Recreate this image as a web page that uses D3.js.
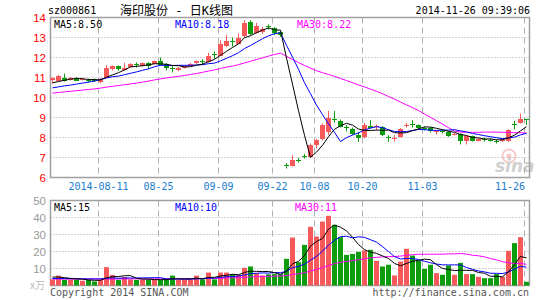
<!DOCTYPE html>
<html>
<head>
<meta charset="utf-8">
<script src="https://cdn.jsdelivr.net/npm/d3@7"></script>
<style>
body { margin: 0; background: #fff; }
text { font-family: "DejaVu Sans Mono", monospace; font-size: 10px; }
.ax { font-family: "Liberation Sans", Arial, sans-serif; font-size: 11.5px; }
</style>
</head>
<body>
<svg id="chart" width="545" height="300"></svg>
<script>
// trading days, 2014-07-30 .. 2014-11-26
var dates = [
  "07-30","07-31","08-01","08-04","08-05","08-06","08-07","08-08","08-11","08-12",
  "08-13","08-14","08-15","08-18","08-19","08-20","08-21","08-22","08-25","08-26",
  "08-27","08-28","08-29","09-01","09-02","09-03","09-04","09-05","09-09","09-10",
  "09-11","09-12","09-15","09-16","09-17","09-18","09-19","09-22","09-23","09-24",
  "09-25","09-26","09-29","09-30","10-08","10-09","10-10","10-13","10-14","10-15",
  "10-16","10-17","10-20","10-21","10-22","10-23","10-24","10-27","10-28","10-29",
  "10-30","10-31","11-03","11-04","11-05","11-06","11-07","11-10","11-11","11-12",
  "11-13","11-14","11-17","11-18","11-19","11-20","11-21","11-24","11-25","11-26"
];
var opens = [
  10.87,10.83,11.00,10.90,11.00,10.90,10.87,10.90,10.80,11.00,
  11.40,11.57,11.38,11.57,11.67,11.60,11.75,11.70,11.83,11.70,
  11.47,11.40,11.47,11.58,11.70,11.80,11.78,12.18,12.12,12.57,
  12.82,12.70,13.06,13.78,13.23,13.25,13.55,13.50,13.28,6.64,
  6.58,6.88,7.08,7.03,7.65,7.90,8.28,8.93,8.82,8.52,
  8.42,8.13,8.00,8.60,8.50,8.53,8.02,7.98,8.03,8.58,
  8.70,8.62,8.50,8.50,8.30,8.35,8.28,8.15,8.17,7.83,
  8.07,7.83,7.92,7.90,7.85,7.85,7.83,8.65,8.73,8.92
];
var highs = [
  11.00,11.12,11.20,11.02,11.02,10.97,10.95,10.95,10.98,11.62,
  11.60,11.60,11.73,11.72,11.75,11.75,11.77,11.85,12.00,11.72,
  11.62,11.53,11.60,11.72,11.85,11.92,12.23,12.30,12.87,13.12,
  13.00,13.20,13.87,13.87,13.73,13.53,13.65,13.52,13.30,6.72,
  7.12,6.98,7.18,7.70,7.93,8.70,9.33,9.33,8.90,8.62,
  8.50,8.28,8.73,8.87,8.65,8.57,8.12,8.12,8.47,8.73,
  8.87,8.65,8.55,8.52,8.37,8.38,8.30,8.22,8.20,8.10,
  8.10,7.98,8.00,7.95,7.90,7.93,8.42,8.83,9.20,8.93
];
var lows = [
  10.70,10.80,10.80,10.85,10.83,10.85,10.75,10.78,10.70,10.98,
  11.35,11.33,11.35,11.50,11.50,11.55,11.42,11.65,11.60,11.35,
  11.25,11.30,11.45,11.55,11.68,11.65,11.75,11.95,12.10,12.53,
  12.55,12.68,13.00,13.12,13.20,13.18,13.40,13.12,13.03,6.45,
  6.55,6.75,6.95,7.00,7.45,7.85,8.12,8.75,8.50,8.30,
  8.13,7.78,7.95,8.45,8.37,8.07,7.78,7.80,8.00,8.50,
  8.50,8.42,8.35,8.25,8.15,8.20,8.03,8.10,7.65,7.65,
  7.80,7.80,7.80,7.80,7.70,7.78,7.78,8.40,8.70,8.62
];
var closes = [
  10.97,11.07,10.83,11.00,10.87,10.95,10.85,10.80,10.95,11.48,
  11.57,11.40,11.50,11.70,11.63,11.73,11.58,11.83,11.65,11.50,
  11.45,11.50,11.57,11.70,11.82,11.78,12.10,12.15,12.70,12.82,
  12.75,12.98,13.72,13.17,13.57,13.40,13.52,13.23,13.12,6.60,
  6.90,6.86,7.06,7.62,7.90,8.62,9.00,8.90,8.53,8.50,
  8.18,7.97,8.62,8.50,8.57,8.15,8.00,8.00,8.43,8.62,
  8.67,8.45,8.48,8.37,8.32,8.33,8.07,8.20,7.83,8.07,
  7.83,7.95,7.90,7.88,7.83,7.87,8.40,8.62,8.92,8.87
];
var ma5 = [
  10.73,10.80,10.86,10.92,10.95,10.94,10.90,10.89,10.88,11.01,
  11.13,11.24,11.38,11.53,11.56,11.59,11.63,11.69,11.68,11.66,
  11.60,11.59,11.53,11.54,11.61,11.67,11.79,11.91,12.11,12.31,
  12.50,12.68,12.99,13.09,13.24,13.37,13.48,13.38,13.37,11.97,
  10.67,9.34,8.11,7.01,7.27,7.61,8.04,8.41,8.59,8.71,
  8.62,8.42,8.36,8.35,8.37,8.36,8.37,8.24,8.23,8.24,
  8.34,8.43,8.53,8.52,8.46,8.39,8.31,8.26,8.15,8.10,
  8.00,7.98,7.92,7.93,7.88,7.89,7.98,8.12,8.33,8.54
];
var ma10 = [
  10.48,10.53,10.58,10.62,10.67,10.72,10.77,10.82,10.90,10.98,
  11.04,11.07,11.14,11.21,11.28,11.36,11.43,11.54,11.61,11.61,
  11.60,11.61,11.61,11.61,11.63,11.64,11.69,11.72,11.83,11.96,
  12.09,12.24,12.45,12.60,12.77,12.94,13.08,13.19,13.23,12.61,
  12.02,11.41,10.74,10.19,9.62,9.14,8.69,8.26,7.80,7.99,
  8.12,8.23,8.38,8.47,8.54,8.49,8.39,8.30,8.29,8.30,
  8.35,8.40,8.39,8.37,8.35,8.37,8.37,8.39,8.33,8.28,
  8.20,8.15,8.09,8.04,7.99,7.94,7.98,8.02,8.13,8.21
];
var ma30 = [
  10.22,10.25,10.28,10.31,10.34,10.37,10.40,10.43,10.47,10.52,
  10.56,10.60,10.64,10.68,10.72,10.77,10.82,10.88,10.93,10.98,
  11.02,11.06,11.10,11.15,11.20,11.26,11.32,11.38,11.45,11.52,
  11.57,11.64,11.73,11.81,11.90,11.98,12.07,12.15,12.22,12.06,
  11.90,11.75,11.60,11.47,11.34,11.24,11.15,11.06,10.95,10.85,
  10.74,10.63,10.53,10.42,10.31,10.19,10.05,9.92,9.77,9.63,
  9.50,9.35,9.17,9.01,8.84,8.67,8.49,8.32,8.27,8.26,
  8.26,8.26,8.27,8.27,8.27,8.26,8.25,8.24,8.24,8.22
];
// volume, 10k lots
var volumes = [
  3.6,5.8,3.4,3.4,3.4,2.8,3.3,2.4,3.4,10.8,
  6.2,3.4,5.0,3.6,3.3,3.5,3.6,3.4,3.4,3.4,
  5.8,3.4,3.4,3.4,5.8,3.6,7.6,3.6,7.6,7.6,
  6.6,6.3,10.4,11.2,7.2,5.9,6.6,6.7,6.7,15.7,
  28.2,13.7,23.9,34.5,28.8,37.6,41.0,35.7,28.4,18.0,
  18.6,19.8,20.6,21.0,14.5,11.2,12.2,5.9,14.1,21.6,
  17.6,14.5,9.8,12.2,7.3,6.3,11.8,6.3,13.3,6.7,
  6.7,5.1,4.3,4.3,6.7,5.1,20.4,24.9,28.4,2.2
];
var vma5 = [
  4.9,5.0,4.6,4.2,3.92,3.76,3.26,3.06,3.06,4.54,
  5.22,5.24,5.76,5.80,4.30,3.76,3.80,3.48,3.44,3.46,
  3.92,3.88,3.88,3.88,4.36,3.92,4.76,4.80,5.64,6.00,
  6.60,6.34,7.70,8.42,8.34,8.20,8.26,7.52,6.62,8.32,
  12.78,14.20,17.64,23.20,25.82,27.70,33.16,35.52,34.30,32.14,
  28.34,24.10,21.08,19.60,18.90,17.42,15.90,12.96,11.58,13.00,
  14.28,14.74,15.52,15.14,12.28,10.02,9.48,8.78,9.00,8.88,
  8.96,7.62,7.22,5.42,5.42,5.10,8.16,12.28,17.10,16.20
];
var vma10 = [
  4.1,4.1,4.1,4.0,4.0,3.9,3.9,3.9,3.9,4.23,
  4.49,4.25,4.41,4.43,4.42,4.49,4.52,4.62,4.62,3.88,
  3.84,3.84,3.68,3.66,3.91,3.92,4.32,4.34,4.76,5.18,
  5.26,5.55,6.25,7.03,7.17,7.40,7.30,7.61,7.52,8.33,
  10.49,11.23,12.58,14.91,17.07,20.24,23.68,26.58,28.75,28.98,
  28.02,28.63,28.30,26.95,25.52,22.88,20.00,17.02,15.59,15.95,
  15.85,15.32,14.24,13.36,12.64,12.15,12.11,12.15,12.07,10.58,
  9.49,8.55,8.00,7.21,7.15,7.03,7.89,9.75,11.26,10.81
];
var vma30 = [
  3.8,3.8,3.8,3.8,3.8,3.8,3.8,3.8,3.8,3.8,
  3.8,3.9,3.9,3.9,3.9,3.9,3.9,3.9,3.9,4.0,
  4.0,4.0,4.0,4.1,4.1,4.1,4.2,4.2,4.3,4.43,
  4.53,4.55,4.78,5.04,5.17,5.27,5.38,5.52,5.63,5.80,
  6.53,6.87,7.50,8.53,9.38,10.52,11.77,12.84,13.68,14.16,
  14.59,15.14,15.71,16.30,16.59,16.84,16.99,17.07,17.29,17.75,
  18.12,18.39,18.37,18.41,18.41,18.42,18.60,18.58,18.80,18.50,
  17.79,17.50,16.85,15.84,15.10,14.02,13.33,12.97,12.97,12.45
];
var priceTicks = [6, 7, 8, 9, 10, 11, 12, 13, 14];
var volTicks = [10, 20, 30, 40, 50];
var tickDates = ["08-11", "08-25", "09-09", "09-22", "10-08", "10-20", "11-03", "11-26"];
var upColor = "#f65959", downColor = "#0c9c0c";

var svg = d3.select("#chart");
var left = 50.5, right = 529.5;

var x = d3.scalePoint().domain(dates).range([52.5, 526.5]);
var y = d3.scaleLinear().domain([6, 14]).range([177.5, 17.5]);
var yv = d3.scaleLinear().domain([0, 50]).range([285.5, 200.5]);

function isUp(i) { return closes[i] >= opens[i]; }

// header
svg.append("text").attr("x", 48).attr("y", 14).attr("font-size", "10.5px").text("sz000861");
svg.append("text").attr("x", 120).attr("y", 14.5)
    .style("font-family", "'DejaVu Sans Mono','Noto Sans CJK SC',sans-serif").style("font-size", "12px")
    .attr("xml:space", "preserve").text("海印股份 - 日K线图");
svg.append("text").attr("x", 530).attr("y", 14).attr("text-anchor", "end").attr("font-size", "10.5px")
    .text("2014-11-26 09:39:06");

function panel(yScale, ticks, top, bottom) {
    var g = svg.append("g");
    g.selectAll("line.h").data(ticks).enter().append("line")
        .attr("x1", left).attr("x2", right)
        .attr("y1", function(d) { return yScale(d); })
        .attr("y2", function(d) { return yScale(d); })
        .attr("stroke", "#a8a8a8").attr("stroke-dasharray", "1,2");
    g.selectAll("line.v").data(tickDates).enter().append("line")
        .attr("x1", function(d) { return x(d) - 2; })
        .attr("x2", function(d) { return x(d) - 2; })
        .attr("y1", top).attr("y2", bottom)
        .attr("stroke", "#b0b0b0").attr("stroke-dasharray", "6,4");
    g.append("rect").attr("x", left).attr("y", top)
        .attr("width", right - left).attr("height", bottom - top)
        .attr("fill", "none").attr("stroke", "#a0a0a0").attr("stroke-width", 1.5);
}
panel(y, priceTicks.slice(1, -1), 17.5, 177.5);
panel(yv, volTicks.slice(0, -1), 200.5, 285.5);

// axis labels
svg.selectAll("text.py").data(priceTicks).enter().append("text")
    .attr("class", "ax").attr("x", 46).attr("y", function(d) { return y(d) + 4; })
    .attr("text-anchor", "end").attr("fill", "#f00").text(function(d) { return d; });
svg.selectAll("text.vy").data(volTicks).enter().append("text")
    .attr("class", "ax").attr("x", 46).attr("y", function(d) { return yv(d) + 4; })
    .attr("text-anchor", "end").attr("fill", "#999").text(function(d) { return d; });
svg.append("text").attr("x", 30).attr("y", 289).attr("fill", "#bbb").attr("font-size", "9px")
    .style("font-family", "'Noto Sans CJK SC',sans-serif").text("x万");
svg.selectAll("text.xd").data(tickDates).enter().append("text")
    .attr("x", function(d) { return Math.min(x(d) - 2, 510); })
    .attr("y", 190).attr("text-anchor", "middle").attr("fill", "#1a7ccc")
    .text(function(d, i) { return i === 0 ? "2014-" + d : d; });

// sina watermark
var wm = svg.append("g").attr("opacity", 0.55);
wm.append("circle").attr("cx", 509).attr("cy", 156).attr("r", 6.5).attr("fill", "none")
    .attr("stroke", "#f0a0a0").attr("stroke-width", 2);
wm.append("circle").attr("cx", 509).attr("cy", 156).attr("r", 2.5).attr("fill", "#f0a0a0");
wm.append("text").attr("x", 495).attr("y", 172)
    .style("font-family", "'DejaVu Sans',sans-serif").style("font-size", "17px")
    .style("font-style", "italic").style("font-weight", "bold").attr("fill", "#aaa").text("sina");

// candles
var idx = d3.range(dates.length);
var cg = svg.append("g");
cg.selectAll("line.wick").data(idx).enter().append("line")
    .attr("x1", function(i) { return x(dates[i]); })
    .attr("x2", function(i) { return x(dates[i]); })
    .attr("y1", function(i) { return y(highs[i]); })
    .attr("y2", function(i) { return y(lows[i]); })
    .attr("stroke", function(i) { return isUp(i) ? upColor : downColor; });
cg.selectAll("rect.body").data(idx).enter().append("rect")
    .attr("x", function(i) { return x(dates[i]) - 2.5; })
    .attr("width", 5)
    .attr("y", function(i) { return Math.round(y(Math.max(opens[i], closes[i]))); })
    .attr("height", function(i) { return Math.max(1, Math.round(Math.abs(y(opens[i]) - y(closes[i])))); })
    .attr("fill", function(i) { return isUp(i) ? upColor : downColor; });

// volume bars
svg.append("g").selectAll("rect").data(idx).enter().append("rect")
    .attr("x", function(i) { return x(dates[i]) - 2.5; })
    .attr("width", 5)
    .attr("y", function(i) { return yv(volumes[i]); })
    .attr("height", function(i) { return yv(0) - yv(volumes[i]); })
    .attr("fill", function(i) { return isUp(i) ? upColor : downColor; });

// moving averages
function drawLine(values, scale, color) {
    var line = d3.line()
        .x(function(d, i) { return x(dates[i]); })
        .y(function(d) { return scale(d); });
    svg.append("path").datum(values).attr("d", line)
        .attr("fill", "none").attr("stroke", color).attr("stroke-width", 1);
}
drawLine(ma30, y, "#f0f");
drawLine(ma10, y, "#00f");
drawLine(ma5, y, "#000");
drawLine(vma30, yv, "#f0f");
drawLine(vma10, yv, "#00f");
drawLine(vma5, yv, "#000");

// legends
var legends = [
    ["MA5:8.50", "#000", 54, 28], ["MA10:8.18", "#00f", 175, 28], ["MA30:8.22", "#f0f", 297, 28],
    ["MA5:15", "#000", 54, 211], ["MA10:10", "#00f", 175, 211], ["MA30:11", "#f0f", 295, 211]
];
legends.forEach(function(l) {
    svg.append("text").attr("x", l[2]).attr("y", l[3]).attr("fill", l[1]).text(l[0]);
});

svg.append("text").attr("x", 50).attr("y", 296).attr("fill", "#555").text("Copyright 2014 SINA.COM");
svg.append("text").attr("x", 529).attr("y", 296).attr("text-anchor", "end").attr("fill", "#555")
    .text("http://finance.sina.com.cn");
</script>
</body>
</html>
